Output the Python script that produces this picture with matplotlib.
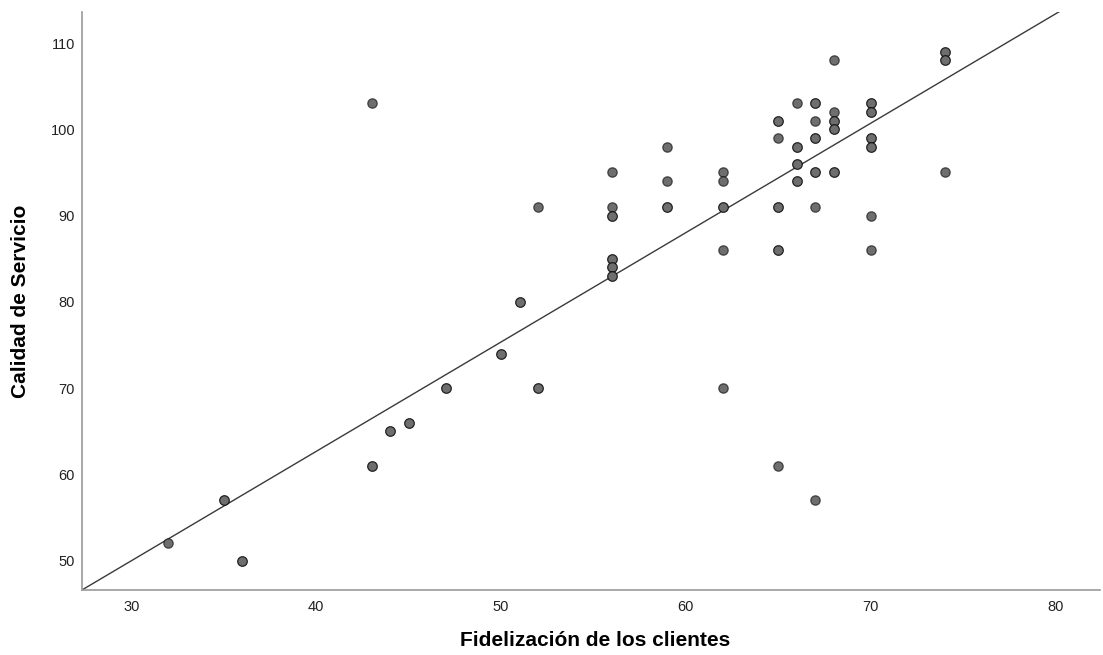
import matplotlib
matplotlib.use("Agg")
import matplotlib.pyplot as plt
import numpy as np

# Fidelización (x) vs Calidad de Servicio (y), overlapping cases repeated
fidelizacion = [32, 35, 35, 36, 36, 43, 43, 43, 44, 44, 45, 45, 47, 47, 50, 50, 51, 51, 52, 52, 52,
                56, 56, 56, 56, 56, 56, 56, 56, 56, 56,
                59, 59, 59, 59,
                62, 62, 62, 62, 62, 62,
                65, 65, 65, 65, 65, 65, 65, 65,
                66, 66, 66, 66, 66, 66, 66,
                67, 67, 67, 67, 67, 67, 67, 67, 67,
                68, 68, 68, 68, 68, 68, 68, 68,
                70, 70, 70, 70, 70, 70, 70, 70, 70, 70,
                74, 74, 74, 74, 74]
calidad = [52, 57, 57, 50, 50, 103, 61, 61, 65, 65, 66, 66, 70, 70, 74, 74, 80, 80, 91, 70, 70,
           95, 91, 90, 90, 85, 85, 84, 84, 83, 83,
           98, 94, 91, 91,
           95, 94, 91, 91, 86, 70,
           101, 101, 99, 91, 91, 86, 86, 61,
           103, 98, 98, 96, 96, 94, 94,
           103, 103, 101, 99, 99, 95, 95, 91, 57,
           108, 102, 101, 101, 100, 100, 95, 95,
           103, 103, 102, 102, 99, 99, 98, 98, 90, 86,
           109, 109, 108, 108, 95]

# fit line
fit_intercept = 11.95
fit_slope = 1.268

x_ticks = [30, 40, 50, 60, 70, 80]
y_ticks = [50, 60, 70, 80, 90, 100, 110]

plt.rcParams['font.family'] = ['Liberation Sans', 'DejaVu Sans']

fig = plt.figure(figsize=(11.03, 6.55), dpi=100)
ax = fig.add_axes([82 / 1103, 65 / 655, 1018 / 1103, 578 / 655])

ax.set_xlim(27.33, 82.4)
ax.set_ylim(46.6, 113.6)

xs = np.array(ax.get_xlim())
ax.plot(xs, fit_intercept + fit_slope * xs, color='#3a3a3a', linewidth=1.0, zorder=2)

ax.scatter(fidelizacion, calidad, s=46, facecolor='#6e6e6e',
           edgecolors=[(0, 0, 0, 0.6)], linewidths=0.9, zorder=3)

for side in ['top', 'right']:
    ax.spines[side].set_visible(False)
for side in ['left', 'bottom']:
    ax.spines[side].set_color('#9a9a9a')
    ax.spines[side].set_linewidth(1.2)

ax.set_xticks(x_ticks)
ax.set_yticks(y_ticks)
ax.tick_params(axis='both', length=0, labelsize=10.5, colors='#222222')
ax.tick_params(axis='x', pad=7)
ax.tick_params(axis='y', pad=5)

ax.set_xlabel('Fidelización de los clientes', fontsize=15, fontweight='bold')
ax.set_ylabel('Calidad de Servicio', fontsize=15, fontweight='bold')
ax.xaxis.label.set_va('center')
ax.yaxis.label.set_va('center')
ax.xaxis.set_label_coords(0.504, -0.088)
ax.yaxis.set_label_coords(-0.060, 0.5)

fig.savefig('out.png', dpi=100)
